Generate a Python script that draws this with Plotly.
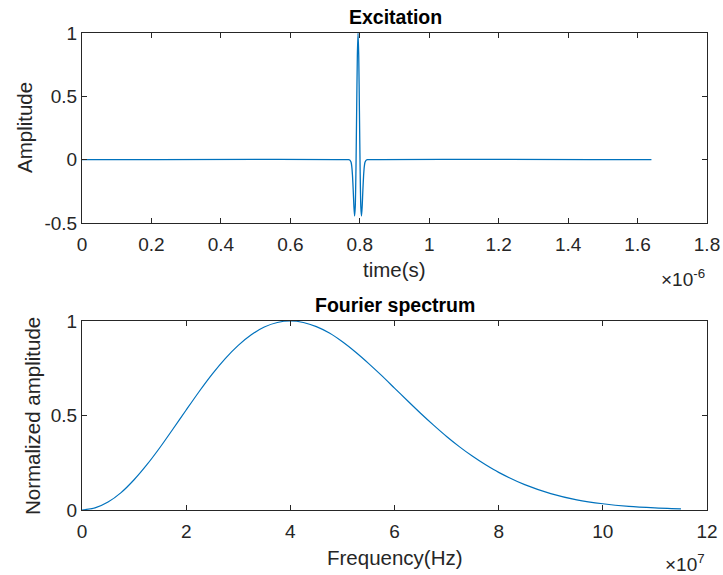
import plotly.graph_objects as go
from plotly.subplots import make_subplots

# ---- Data ----
# Excitation: time in units of 1e-6 s, amplitude
exc_time = [0, 0.767, 0.771, 0.775, 0.777, 0.779, 0.781, 0.783, 0.785, 0.787, 0.789, 0.791, 0.793,
            0.795,
            0.797, 0.799, 0.801, 0.803, 0.805, 0.807, 0.809, 0.811, 0.813, 0.815, 0.819, 0.823, 1.64]
exc_amp = [0, 0, -0.002, -0.021, -0.055, -0.125, -0.235, -0.365, -0.445, -0.372, -0.078, 0.384, 0.820,
           1.0,
           0.820, 0.384, -0.078, -0.372, -0.445, -0.365, -0.235, -0.125, -0.055, -0.021, -0.002, 0, 0]

# Fourier spectrum: frequency in units of 1e7 Hz, normalized amplitude
spec_freq = [0, 0.25, 0.5, 0.75, 1, 1.25, 1.5, 1.75, 2, 2.25, 2.5, 2.75, 3, 3.25, 3.5, 3.75, 4,
             4.25, 4.5, 4.75, 5, 5.25, 5.5, 5.75, 6, 6.25, 6.5, 6.75, 7, 7.25, 7.5, 7.75, 8,
             8.5, 9, 9.5, 10, 10.5, 11, 11.5]
spec_amp = [0, 0.011, 0.042, 0.092, 0.160, 0.241, 0.332, 0.430, 0.529, 0.627, 0.719, 0.801, 0.871,
            0.927, 0.968, 0.992, 1.0, 0.992, 0.970, 0.936, 0.890, 0.836, 0.776, 0.712, 0.645,
            0.578, 0.512, 0.449, 0.389, 0.334, 0.284, 0.239, 0.199, 0.134, 0.087, 0.054, 0.033,
            0.019, 0.011, 0.006]

# Tick labels
top_xticks = [0, 0.2, 0.4, 0.6, 0.8, 1, 1.2, 1.4, 1.6, 1.8]
top_xlabels = ["0", "0.2", "0.4", "0.6", "0.8", "1", "1.2", "1.4", "1.6", "1.8"]
top_yticks = [-0.5, 0, 0.5, 1]
top_ylabels = ["-0.5", "0", "0.5", "1"]
bot_xticks = [0, 2, 4, 6, 8, 10, 12]
bot_xlabels = ["0", "2", "4", "6", "8", "10", "12"]
bot_yticks = [0, 0.5, 1]
bot_ylabels = ["0", "0.5", "1"]

LINE = "#0072BD"
AX = "#262626"
FONT = "Liberation Sans, Arial, Helvetica, sans-serif"
TICKSIZE = 19
LABSIZE = 20.5
TITLESIZE = 19.5

W, H = 723, 575
L, R, T, B = 82, 16, 33, 65
top_frac = [(510 - 223) / 477, 1.0]
bot_frac = [0.0, (510 - 321) / 477]

fig = make_subplots(rows=2, cols=1)
fig.add_trace(go.Scatter(x=exc_time, y=exc_amp, mode="lines",
                         line=dict(color=LINE, width=1.3, shape="spline", smoothing=0.6),
                         showlegend=False), row=1, col=1)
fig.add_trace(go.Scatter(x=spec_freq, y=spec_amp, mode="lines",
                         line=dict(color=LINE, width=1.2, shape="spline", smoothing=0.6),
                         showlegend=False), row=2, col=1)

axis_common = dict(showline=True, linecolor=AX, linewidth=1, mirror="ticks",
                   ticks="inside", ticklen=5, tickcolor=AX, showgrid=False, zeroline=False,
                   tickfont=dict(family=FONT, size=TICKSIZE, color=AX))

fig.update_layout(
    width=W, height=H,
    margin=dict(l=L, r=R, t=T, b=B, autoexpand=False),
    paper_bgcolor="white", plot_bgcolor="white",
    xaxis=dict(domain=[0, 1], range=[0, 1.8], tickvals=top_xticks, ticktext=top_xlabels,
               anchor="y", ticklabelstandoff=4, **axis_common),
    yaxis=dict(domain=top_frac, range=[-0.5, 1], tickvals=top_yticks, ticktext=top_ylabels,
               anchor="x", **axis_common),
    xaxis2=dict(domain=[0, 1], range=[0, 12], tickvals=bot_xticks, ticktext=bot_xlabels,
                anchor="y2", ticklabelstandoff=4, **axis_common),
    yaxis2=dict(domain=bot_frac, range=[0, 1], tickvals=bot_yticks, ticktext=bot_ylabels,
                anchor="x2", **axis_common),
)

def py(pix):
    return (510 - pix) / 477

def px(pix):
    return (pix - 82) / 625

ann = [
    dict(text="<b>Excitation</b>", x=px(395), y=py(17), size=TITLESIZE, color="black", angle=0),
    dict(text="<b>Fourier spectrum</b>", x=px(395), y=py(305), size=TITLESIZE, color="black", angle=0),
    dict(text="time(s)", x=px(394.5), y=py(269), size=LABSIZE, color=AX, angle=0),
    dict(text="Frequency(Hz)", x=px(394.5), y=py(557), size=LABSIZE, color=AX, angle=0),
    dict(text="Amplitude", x=px(24), y=py(128), size=LABSIZE, color=AX, angle=-90),
    dict(text="Normalized amplitude", x=px(32), y=py(416), size=LABSIZE, color=AX, angle=-90),
]
for a in ann:
    fig.add_annotation(text=a["text"], xref="paper", yref="paper", x=a["x"], y=a["y"],
                       xanchor="center", yanchor="middle", showarrow=False, textangle=a["angle"],
                       font=dict(family=FONT, size=a["size"], color=a["color"]))

fig.add_annotation(text="×10<sup>-6</sup>", xref="paper", yref="paper", x=1.0, y=py(278),
                   xanchor="right", yanchor="middle", showarrow=False,
                   font=dict(family=FONT, size=19, color=AX))
fig.add_annotation(text="×10<sup>7</sup>", xref="paper", yref="paper", x=1.0, y=py(563),
                   xanchor="right", yanchor="middle", showarrow=False,
                   font=dict(family=FONT, size=19, color=AX))

fig.write_html("out.html", config={"displayModeBar": False},
               post_script="document.body.style.margin='0';")
